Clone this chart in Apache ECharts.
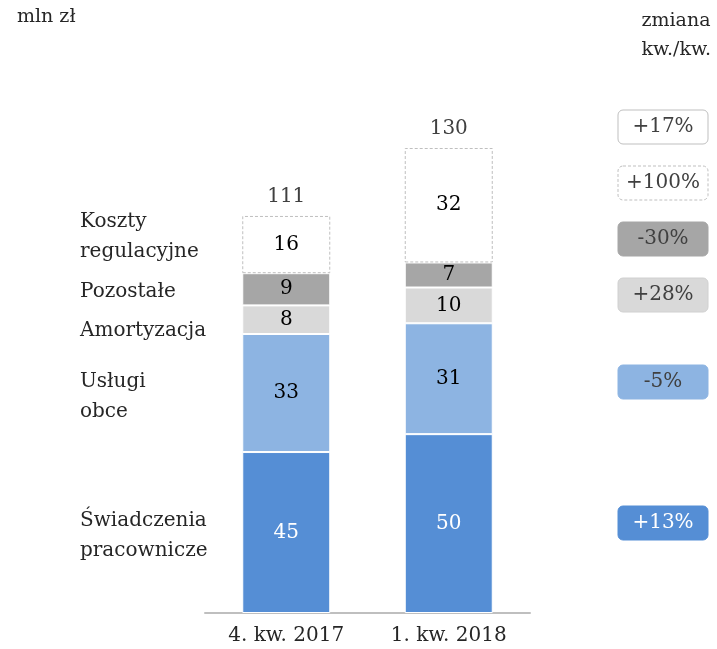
<!DOCTYPE html>
<html>
<head>
<meta charset="utf-8">
<script src="https://cdn.jsdelivr.net/npm/echarts@6/dist/echarts.min.js"></script>
<style>
  html, body { margin: 0; padding: 0; background: #fff; }
  #main { width: 717px; height: 649px; }
</style>
</head>
<body>
<div id="main"></div>
<script>
var categories = ['4. kw. 2017', '1. kw. 2018'];
var swiadczenia = [45, 50];
var uslugi = [33, 31];
var amortyzacja = [8, 10];
var pozostale = [9, 7];
var regulacyjne = [16, 32];
var totals = [111, 130];
var changes = ['+17%', '+100%', '-30%', '+28%', '-5%', '+13%'];

var FONT = 'DejaVu Serif';
var chart = echarts.init(document.getElementById('main'));

function seg(name, data, color, textColor, extra) {
  var s = {
    name: name, type: 'bar', stack: 'k', data: data, barWidth: 88,
    itemStyle: { color: color, borderColor: '#fff', borderWidth: 1 },
    label: { show: true, position: 'inside', color: textColor, fontFamily: FONT, fontSize: 20 }
  };
  return Object.assign(s, extra || {});
}

// badge styles: [fill, border, dashed, text color]
var badgeStyles = [
  ['#fff', '#bfbfbf', false, '#404040'],
  ['#fff', '#bfbfbf', true, '#404040'],
  ['#a6a6a6', '#a6a6a6', false, '#404040'],
  ['#d9d9d9', '#d0d0d0', false, '#404040'],
  ['#8db4e2', '#8db4e2', false, '#404040'],
  ['#558ed5', '#558ed5', false, '#fff']
];
var badgeY = [127, 183, 239, 295, 382, 523];
var graphics = [
  { type: 'text', left: 17, top: 8, style: { text: 'mln zł', font: '19px ' + FONT, fill: '#262626' } },
  { type: 'text', right: 6, top: 7, style: { text: 'zmiana\nkw./kw.', font: '19px ' + FONT, fill: '#262626', align: 'right', lineHeight: 29 } }
];
var leftLabels = [
  ['Koszty\nregulacyjne', 237], ['Pozostałe', 292], ['Amortyzacja', 331], ['Usługi\nobce', 397], ['Świadczenia\npracownicze', 536]
];
leftLabels.forEach(function (l) {
  graphics.push({ type: 'text', x: 80, y: l[1], style: { text: l[0], font: '20px ' + FONT, fill: '#262626', verticalAlign: 'middle', lineHeight: 30 } });
});
changes.forEach(function (c, i) {
  var st = badgeStyles[i];
  graphics.push({
    type: 'rect', shape: { x: 618, y: badgeY[i] - 17, width: 90, height: 34, r: 5 },
    style: { fill: st[0], stroke: st[1], lineWidth: 1, lineDash: st[2] ? [3, 2] : null }
  });
  graphics.push({ type: 'text', x: 663, y: badgeY[i], style: { text: c, font: '20px ' + FONT, fill: st[3], align: 'center', verticalAlign: 'middle' } });
});

chart.setOption({
  animation: false,
  grid: { left: 205, right: 187, top: 148, bottom: 36 },
  xAxis: {
    type: 'category', data: categories,
    axisLine: { lineStyle: { color: '#bfbfbf', width: 2 } },
    axisTick: { show: false },
    axisLabel: { color: '#262626', fontFamily: FONT, fontSize: 20, margin: 13 }
  },
  yAxis: { type: 'value', min: 0, max: 130, show: false, splitLine: { show: false } },
  series: [
    seg('Świadczenia pracownicze', swiadczenia, '#558ed5', '#fff'),
    seg('Usługi obce', uslugi, '#8db4e2', '#000'),
    seg('Amortyzacja', amortyzacja, '#d9d9d9', '#000'),
    seg('Pozostałe', pozostale, '#a6a6a6', '#000'),
    seg('Koszty regulacyjne', regulacyjne, '#fff', '#000', {
      itemStyle: { color: '#fff', borderColor: '#bfbfbf', borderWidth: 1, borderType: [3, 2] }
    }),
    {
      name: 'Suma', type: 'bar', stack: 'k', barWidth: 88,
      data: totals.map(function () { return 0; }),
      itemStyle: { color: 'transparent' },
      label: {
        show: true, position: 'top', distance: 9, color: '#404040', fontFamily: FONT, fontSize: 20,
        formatter: function (p) { return totals[p.dataIndex]; }
      }
    }
  ],
  graphic: graphics
});
</script>
</body>
</html>
